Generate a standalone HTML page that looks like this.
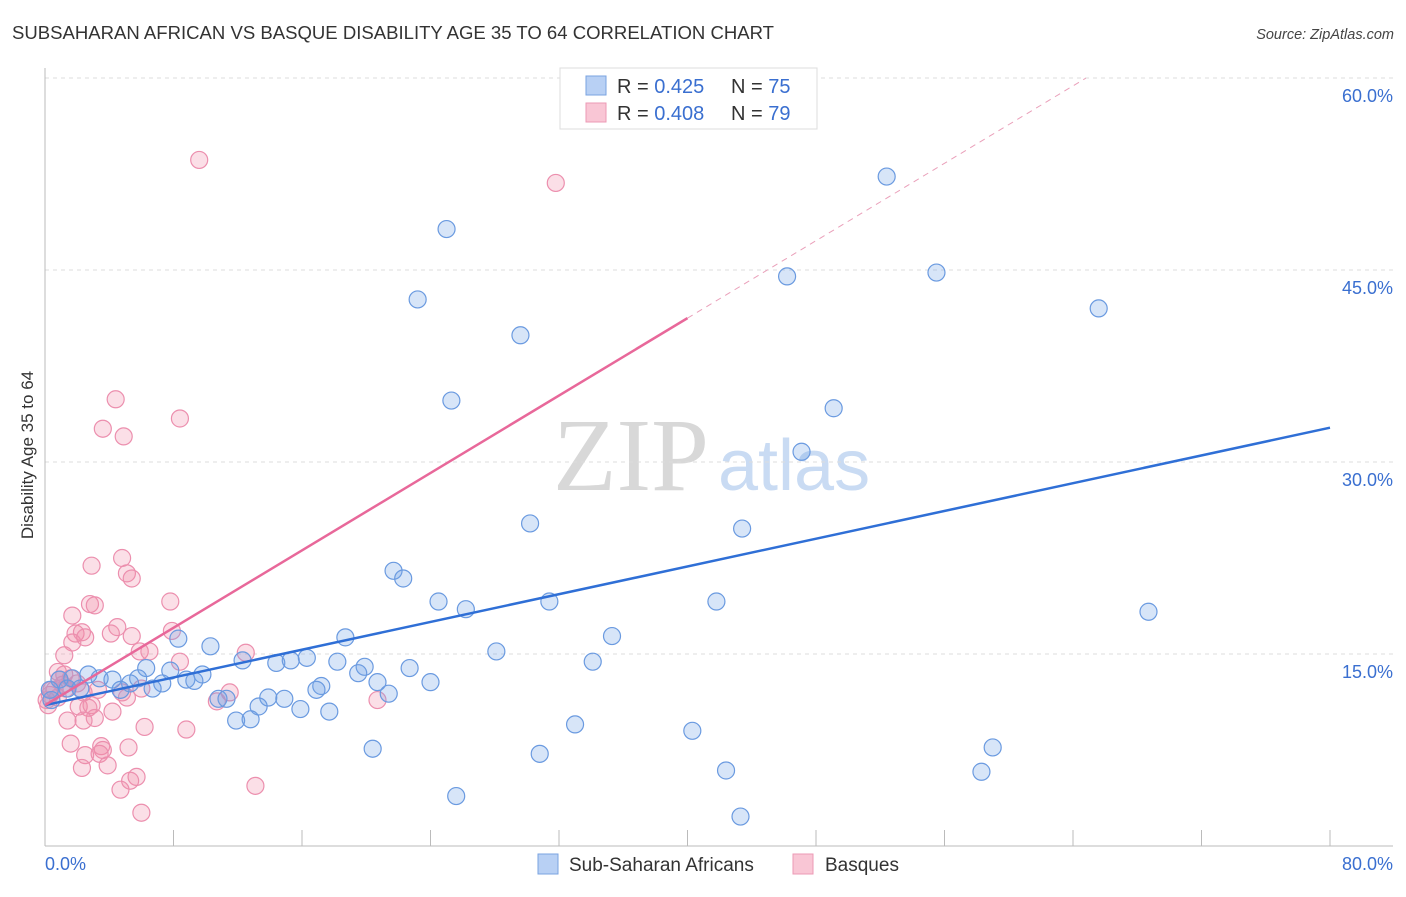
<!DOCTYPE html>
<html><head><meta charset="utf-8"><style>
body{margin:0;background:#fff;font-family:"Liberation Sans",sans-serif}
</style></head><body>
<svg id="chart" width="1406" height="892" xmlns="http://www.w3.org/2000/svg" style="font-family:'Liberation Sans',sans-serif">
<text x="12" y="39" font-size="18.5" fill="#333" textLength="762" lengthAdjust="spacingAndGlyphs">SUBSAHARAN AFRICAN VS BASQUE DISABILITY AGE 35 TO 64 CORRELATION CHART</text>
<text x="1394" y="39" font-size="14.5" fill="#444" text-anchor="end" font-style="italic">Source: ZipAtlas.com</text>
<g>
<text x="553" y="490" font-size="104" font-family="Liberation Serif" fill="#d8d8d8">ZIP</text>
<text x="718" y="490" font-size="72" fill="#c9dbf3">atlas</text>
</g>
<g id="grid"></g>
<g id="axes"></g>
<g id="pts"></g>
<g id="lines"></g>
<text transform="translate(33,455) rotate(-90)" font-size="17" fill="#333" text-anchor="middle">Disability Age 35 to 64</text>
<g>
<rect x="560" y="68" width="257" height="61" fill="#fff" stroke="#ddd"/>
<rect x="586" y="76" width="20" height="19" fill="#b8d0f4" stroke="#7aa3e0"/>
<rect x="586" y="103" width="20" height="19" fill="#f9c6d5" stroke="#ec9ab5"/>
<text x="617" y="93" font-size="20" fill="#333">R = <tspan fill="#3a6fd0">0.425</tspan><tspan x="731">N = </tspan><tspan fill="#3a6fd0">75</tspan></text>
<text x="617" y="120" font-size="20" fill="#333">R = <tspan fill="#3a6fd0">0.408</tspan><tspan x="731">N = </tspan><tspan fill="#3a6fd0">79</tspan></text>
</g>
<g>
<rect x="538" y="854" width="20" height="20" fill="#b8d0f4" stroke="#7aa3e0"/>
<text x="569" y="871" font-size="19" fill="#333">Sub-Saharan Africans</text>
<rect x="793" y="854" width="20" height="20" fill="#f9c6d5" stroke="#ec9ab5"/>
<text x="825" y="871" font-size="19" fill="#333">Basques</text>
</g>
</svg>
<script>
const blueX=[52.4,25.0,46.2,55.5,65.6,23.2,29.6,25.3,49.1,47.1,30.2,43.4,21.7,22.3,24.5,26.2,31.4,41.8,68.7,35.3,8.3,18.7,10.3,28.1,34.1,12.3,14.4,15.3,16.3,18.2,19.9,19.5,22.7,6.3,7.8,9.8,8.8,9.3,5.8,7.3,6.7,5.3,4.2,3.4,2.7,1.7,0.9,20.7,17.2,16.9,24.0,21.4,4.7,10.8,11.3,13.9,14.9,13.3,15.9,17.7,11.9,12.8,33.0,40.3,20.4,30.8,59.0,42.4,58.3,25.6,43.3,0.3,1.4,0.4,2.2];
const blueY=[52.3,48.2,44.5,44.8,42.0,42.7,39.9,34.8,34.2,30.8,25.2,24.8,21.5,20.9,19.1,18.5,19.1,19.1,18.3,16.4,16.2,16.3,15.6,15.2,14.4,14.5,14.3,14.5,14.7,14.4,14.0,13.5,13.9,13.9,13.7,13.4,13.0,12.9,13.1,12.7,12.3,12.7,13.0,13.1,13.4,13.1,13.0,12.8,12.5,12.2,12.8,11.9,12.2,11.5,11.5,11.6,11.5,10.9,10.7,10.5,9.8,9.9,9.5,9.0,7.6,7.2,7.7,5.9,5.8,3.9,2.3,12.2,12.3,11.4,12.3];
const pinkX=[9.6,31.8,4.4,8.4,3.6,4.9,4.8,2.9,5.1,5.4,7.8,2.8,3.1,1.7,4.5,7.9,1.9,2.3,4.1,5.4,2.5,1.7,5.9,6.5,1.2,12.5,8.4,0.9,0.8,1.1,0.6,0.3,0.2,1.3,1.6,2.0,2.4,3.3,4.8,5.1,6.0,11.5,10.7,20.7,2.1,2.9,2.7,4.2,1.4,3.1,2.4,6.2,8.8,1.6,3.5,5.2,2.5,3.6,3.4,3.9,2.3,5.7,5.3,4.7,13.1,6.0,0.4,0.8,0.1,1.2];
const pinkY=[53.6,51.8,34.9,33.4,32.6,32.0,22.5,21.9,21.3,20.9,19.1,18.9,18.8,18.0,17.1,16.8,16.6,16.7,16.6,16.4,16.3,15.9,15.2,15.2,14.9,15.1,14.4,13.0,13.6,12.6,12.2,11.8,11.0,12.3,13.1,12.7,12.0,12.2,12.0,11.6,12.3,12.0,11.3,11.4,10.9,11.0,10.8,10.5,9.8,10.0,9.8,9.3,9.1,8.0,7.8,7.7,7.1,7.5,7.2,6.3,6.1,5.4,5.1,4.4,4.7,2.6,12.2,11.6,11.4,13.4];
const blueFit=[11.0,0.271];   // intercept, slope
const pinkFit=[11.0,0.756];
const pinkSolidEnd=40, pinkDashEnd=64.8, blueEnd=80;
const yTicks=[15,30,45,60];
const yTickLabels=["15.0%","30.0%","45.0%","60.0%"];
const xTicks=[0,8,16,24,32,40,48,56,64,72,80];

const NS="http://www.w3.org/2000/svg";
const sx=v=>45+v*1285/80, sy=v=>846-v*12.8;
function mk(tag,attrs,parent){const e=document.createElementNS(NS,tag);for(const k in attrs)e.setAttribute(k,attrs[k]);parent.appendChild(e);return e;}
const grid=document.getElementById('grid'),axes=document.getElementById('axes'),pts=document.getElementById('pts'),lines=document.getElementById('lines');
yTicks.forEach((t,i)=>{
 const g=mk('line',{x1:45,x2:1393,y1:sy(t),y2:sy(t),stroke:'#ddd','stroke-dasharray':'4,4'},grid);
 
 
 const l=mk('text',{x:1393,y:sy(t)+24,'font-size':18,fill:'#3a6fd0','text-anchor':'end'},axes);
 
 
 l.textContent=yTickLabels[i];
});
const ax=mk('line',{x1:45,x2:45,y1:68,y2:846,stroke:'#bbb'},axes);


const bx=mk('line',{x1:45,x2:1393,y1:846,y2:846,stroke:'#bbb'},axes);


xTicks.forEach(t=>{const k=mk('line',{x1:sx(t),x2:sx(t),y1:830,y2:846,stroke:'#bbb'},axes);
 
 });
const x0=mk('text',{x:45,y:870,'font-size':18,fill:'#3a6fd0'},axes);x0.textContent='0.0%';


const x1=mk('text',{x:1393,y:870,'font-size':18,fill:'#3a6fd0','text-anchor':'end'},axes);x1.textContent='80.0%';


pinkX.forEach((x,i)=>{const c=mk('circle',{cx:sx(x),cy:sy(pinkY[i]),r:8.5,fill:'rgba(242,140,170,0.28)',stroke:'#ec8fae','stroke-width':1.2},pts);
 
 });
blueX.forEach((x,i)=>{const c=mk('circle',{cx:sx(x),cy:sy(blueY[i]),r:8.5,fill:'rgba(110,160,230,0.28)',stroke:'#6a9ae0','stroke-width':1.2},pts);
 
 });
const f=(p,x)=>p[0]+p[1]*x;
const bl=mk('line',{x1:sx(0),y1:sy(f(blueFit,0)),x2:sx(blueEnd),y2:sy(f(blueFit,blueEnd)),stroke:'#2f6fd6','stroke-width':2.5},lines);


const pl=mk('line',{x1:sx(0),y1:sy(f(pinkFit,0)),x2:sx(pinkSolidEnd),y2:sy(f(pinkFit,pinkSolidEnd)),stroke:'#e8689a','stroke-width':2.5},lines);


const pd=mk('line',{x1:sx(pinkSolidEnd),y1:sy(f(pinkFit,pinkSolidEnd)),x2:sx(pinkDashEnd),y2:sy(f(pinkFit,pinkDashEnd)),stroke:'#eaa0ba','stroke-width':1,'stroke-dasharray':'6,5'},lines);


</script>
</body></html>
